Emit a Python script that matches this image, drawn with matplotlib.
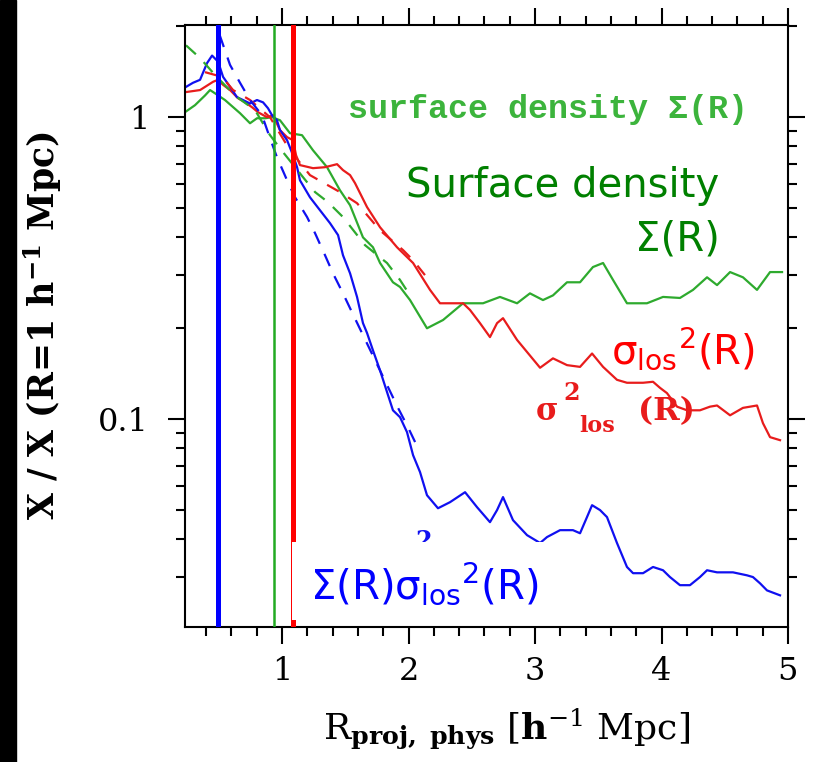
import matplotlib
matplotlib.use("Agg")

import matplotlib.pyplot as plt
from matplotlib.patches import Rectangle
from matplotlib.ticker import MultipleLocator, LogLocator, NullFormatter
import numpy as np

plt.rcParams["font.family"] = "DejaVu Serif"
plt.rcParams["mathtext.fontset"] = "dejavuserif"

# ---------- Data (R [h^-1 Mpc], X / X(R=1)) ----------
sigma_solid = [
    (0.233, 1.039), (0.312, 1.096), (0.391, 1.18), (0.431, 1.23), (0.470, 1.20),
    (0.549, 1.14), (0.668, 1.031), (0.747, 0.955), (0.802, 0.992), (0.866, 0.992),
    (0.921, 1.0), (0.984, 0.977), (1.063, 0.885), (1.158, 0.872), (1.245, 0.777),
    (1.356, 0.683), (1.458, 0.573), (1.538, 0.511), (1.640, 0.400), (1.719, 0.371),
    (1.775, 0.329), (1.877, 0.284), (1.933, 0.274), (2.012, 0.248), (2.146, 0.200),
    (2.273, 0.213), (2.431, 0.242), (2.589, 0.242), (2.723, 0.254), (2.858, 0.242),
    (2.960, 0.261), (3.063, 0.248), (3.142, 0.257), (3.253, 0.284), (3.356, 0.284),
    (3.458, 0.319), (3.538, 0.329), (3.617, 0.289), (3.727, 0.242), (3.885, 0.242),
    (4.012, 0.254), (4.146, 0.252), (4.249, 0.268), (4.360, 0.295), (4.439, 0.278),
    (4.542, 0.307), (4.644, 0.295), (4.755, 0.268), (4.858, 0.307), (4.953, 0.307),
]
sigma_dashed = [
    (0.241, 1.73), (0.352, 1.57), (0.470, 1.38), (0.628, 1.18), (0.787, 1.055),
    (0.905, 0.872), (1.008, 0.766), (1.166, 0.633), (1.261, 0.565), (1.364, 0.523),
    (1.482, 0.467), (1.656, 0.377), (1.830, 0.329), (1.933, 0.289), (2.012, 0.257),
]

vel_solid = [
    (0.233, 1.21), (0.352, 1.23), (0.455, 1.31), (0.494, 1.33), (0.534, 1.28),
    (0.589, 1.23), (0.652, 1.156), (0.708, 1.12), (0.763, 1.079), (0.810, 1.039),
    (0.881, 1.0), (0.929, 1.015), (0.984, 0.906), (1.040, 0.859), (1.087, 0.839),
    (1.111, 0.748), (1.142, 0.694), (1.245, 0.678), (1.340, 0.683), (1.435, 0.699),
    (1.482, 0.668), (1.538, 0.643), (1.577, 0.605), (1.672, 0.504), (1.775, 0.432),
    (1.909, 0.371), (2.036, 0.329), (2.170, 0.268), (2.249, 0.242), (2.431, 0.242),
    (2.486, 0.230), (2.565, 0.208), (2.644, 0.187), (2.700, 0.208), (2.747, 0.216),
    (2.858, 0.183), (3.040, 0.148), (3.142, 0.159), (3.253, 0.151), (3.356, 0.149),
    (3.451, 0.165), (3.538, 0.149), (3.648, 0.135), (3.727, 0.132), (3.854, 0.132),
    (3.933, 0.133), (3.988, 0.127), (4.043, 0.122), (4.123, 0.110), (4.202, 0.107),
    (4.304, 0.107), (4.383, 0.110), (4.439, 0.111), (4.542, 0.103), (4.644, 0.109),
    (4.755, 0.111), (4.802, 0.097), (4.858, 0.0872), (4.937, 0.0852),
]
vel_dashed = [
    (0.391, 1.41), (0.526, 1.36), (0.613, 1.23), (0.747, 1.14), (0.905, 1.0),
    (1.063, 0.777), (1.221, 0.643), (1.458, 0.565), (1.593, 0.519), (1.775, 0.422),
    (1.957, 0.363), (2.036, 0.336), (2.130, 0.300),
]

prod_solid = [
    (0.241, 1.26), (0.296, 1.30), (0.352, 1.33), (0.407, 1.51), (0.447, 1.60),
    (0.486, 1.54), (0.510, 1.46), (0.534, 1.36), (0.589, 1.26), (0.644, 1.165),
    (0.692, 1.14), (0.747, 1.11), (0.802, 1.14), (0.850, 1.12), (0.889, 1.071),
    (0.921, 1.015), (0.960, 0.977), (0.984, 0.906), (1.040, 0.839), (1.087, 0.748),
    (1.119, 0.683), (1.142, 0.618), (1.221, 0.543), (1.300, 0.492), (1.379, 0.446),
    (1.443, 0.407), (1.482, 0.349), (1.538, 0.304), (1.593, 0.254), (1.640, 0.208),
    (1.672, 0.193), (1.719, 0.169), (1.775, 0.145), (1.830, 0.123), (1.877, 0.107),
    (1.933, 0.1015), (1.988, 0.0906), (2.036, 0.0760), (2.091, 0.0668), (2.146, 0.0560),
    (2.233, 0.0507), (2.328, 0.0531), (2.447, 0.0573), (2.542, 0.0511), (2.644, 0.0456),
    (2.700, 0.0500), (2.747, 0.0552), (2.826, 0.0463), (2.937, 0.0413), (3.040, 0.0389),
    (3.095, 0.0407), (3.198, 0.0429), (3.300, 0.0429), (3.356, 0.0419), (3.411, 0.0474),
    (3.451, 0.0519), (3.514, 0.0500), (3.569, 0.0474), (3.648, 0.0389), (3.727, 0.0324),
    (3.775, 0.0309), (3.854, 0.0309), (3.933, 0.0324), (4.012, 0.0316), (4.067, 0.0300),
    (4.146, 0.0282), (4.225, 0.0282), (4.304, 0.0300), (4.360, 0.0316), (4.439, 0.0311),
    (4.565, 0.0311), (4.676, 0.0304), (4.723, 0.0300), (4.779, 0.0286), (4.834, 0.0271),
    (4.937, 0.0261),
]
prod_dashed = [
    (0.391, 2.18), (0.494, 1.94), (0.589, 1.49), (0.668, 1.30), (0.747, 1.14),
    (0.842, 1.015), (0.905, 0.852), (0.960, 0.737), (1.040, 0.618), (1.103, 0.543),
    (1.198, 0.467), (1.261, 0.413), (1.340, 0.349), (1.403, 0.304), (1.482, 0.261),
    (1.553, 0.226), (1.735, 0.157), (1.917, 0.109), (1.996, 0.094), (2.075, 0.0802),
]

# vertical reference radii
r_lines = [0.496, 0.937, 1.09]

GREEN = "#2eaa2e"
RED = "#e81c1c"
BLUE = "#1010f0"

# ---------- Figure ----------
W, H = 817, 762
fig = plt.figure(figsize=(W / 100, H / 100), dpi=100)
ax = fig.add_axes([185 / W, 1 - 627 / H, (788 - 185) / W, (627 - 25) / H])

def fx(px):
    return px / W

def fy(py):
    return 1 - py / H

# black strip on the left edge
fig.patches.append(Rectangle((0, 0), 16 / W, 1, transform=fig.transFigure,
                             color="black", zorder=0))

def xy(pairs):
    a = np.array(pairs)
    return a[:, 0], a[:, 1]

for pairs, col in [(sigma_solid, GREEN), (vel_solid, RED), (prod_solid, BLUE)]:
    ax.plot(*xy(pairs), color=col, lw=1.6, zorder=2)
for pairs, col in [(sigma_dashed, GREEN), (vel_dashed, RED), (prod_dashed, BLUE)]:
    ax.plot(*xy(pairs), color=col, lw=1.6, dashes=(6, 5), zorder=2)

ax.axvline(r_lines[0], color="#0000ff", lw=3.6, zorder=3)
ax.axvline(r_lines[1], color="#22aa22", lw=1.8, zorder=3)
ax.axvline(r_lines[2], color="#ff0000", lw=3.6, zorder=3)

# ---------- Axes ----------
ax.set_xlim(0.233, 5.0)
ax.set_yscale("log")
ax.set_ylim(0.0205, 2.02)
ax.xaxis.set_major_locator(MultipleLocator(1))
ax.xaxis.set_minor_locator(MultipleLocator(0.2))
ax.set_yticks([0.1, 1])
ax.set_yticklabels(["0.1", "1"])
ax.yaxis.set_minor_locator(LogLocator(base=10, subs=np.arange(2, 10) * 1.0, numticks=20))
ax.yaxis.set_minor_formatter(NullFormatter())

ax.tick_params(which="both", direction="out", top=True, right=True, width=1.5)
ax.tick_params(which="major", length=12, labelsize=23)
ax.tick_params(which="minor", length=6.5)
ax.tick_params(axis="y", which="major", pad=14)
ax.tick_params(axis="x", which="major", pad=9)
for s in ax.spines.values():
    s.set_linewidth(1.5)

ax.set_ylabel(r"X / X (R=1 h$\mathregular{^{-1}}$ Mpc)", fontsize=25, fontweight="bold")
ax.yaxis.set_label_coords(-0.2, 0.5)
ax.set_xlabel(r"$\mathrm{R}_{\mathbf{proj,\ phys}}\ [\mathbf{h}^{-1}\ \mathrm{Mpc}]$", fontsize=26)
ax.xaxis.set_label_coords(0.534, -0.132)

# ---------- Annotations ----------
tf = fig.transFigure
ax.text(fx(348), fy(118), "surface density Σ(R)", transform=tf, color="#3cb43c",
        family="Liberation Mono", fontweight="bold", fontsize=24, va="baseline", zorder=5)

ax.text(fx(719), fy(197), "Surface density", transform=tf, color="#008000",
        family="DejaVu Sans", fontsize=29, ha="right", va="baseline", zorder=5)
ax.text(fx(720), fy(250), "Σ(R)", transform=tf, color="#008000",
        family="DejaVu Sans", fontsize=29, ha="right", va="baseline", zorder=5)
ax.text(fx(755), fy(363), r"$\mathregular{σ_{los}{}^{2}(R)}$", transform=tf, color="#ff0000",
        family="DejaVu Sans", fontsize=29, ha="right", va="baseline", zorder=5)

# old-style sigma^2_los (R) label
kw = dict(transform=tf, color=RED, fontweight="bold", va="baseline", zorder=5)
ax.text(fx(536), fy(420), "σ", fontsize=22, **kw)
ax.text(fx(563), fy(400), "2", fontsize=17, **kw)
ax.text(fx(579), fy(432), "los", fontsize=16, **kw)
ax.text(fx(638), fy(420), "(R)", fontsize=23, **kw)

# only the exponent of the old blue label peeks out above the white box
ax.text(fx(415), fy(548), "2", transform=tf, color=BLUE, fontweight="bold",
        fontsize=17, va="baseline", zorder=3)

ax.add_patch(Rectangle((fx(292), fy(620)), fx(565) - fx(292), fy(542) - fy(620),
                       transform=tf, facecolor="white", edgecolor="none", zorder=4))
ax.text(fx(310), fy(598), r"$\mathregular{Σ(R)σ_{los}{}^{2}(R)}$", transform=tf,
        color="#0000ff", family="DejaVu Sans", fontsize=29, va="baseline", zorder=5)

fig.savefig("out.png", dpi=100)
